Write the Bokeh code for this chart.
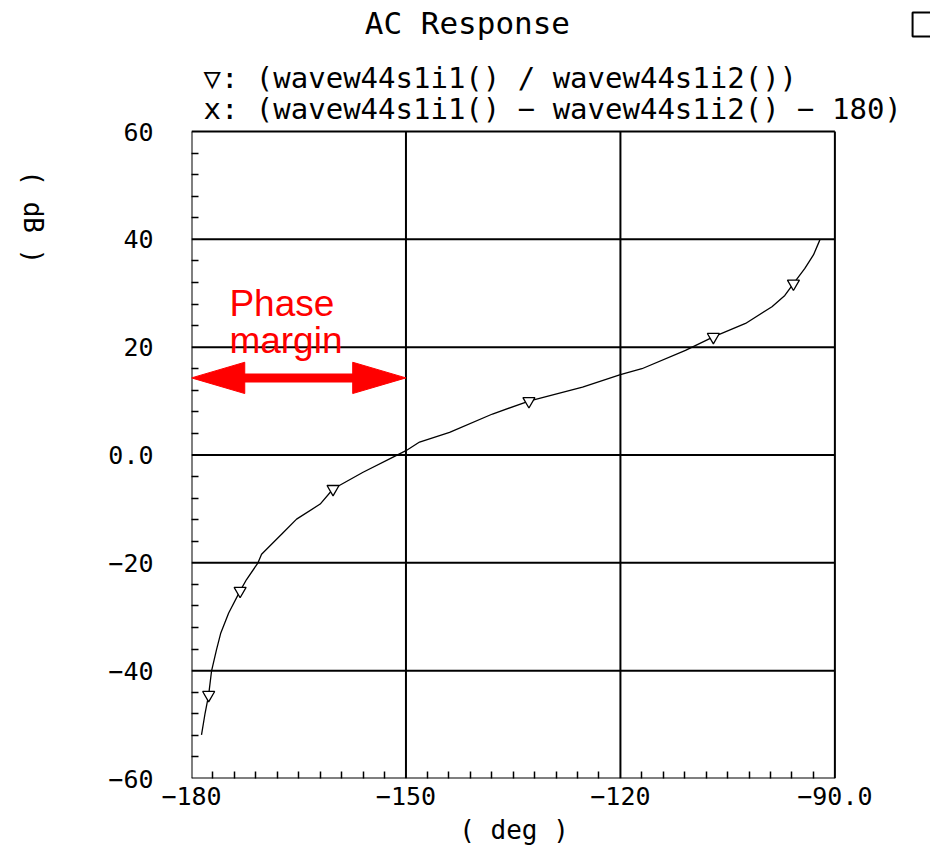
import math
import numpy as np
from bokeh.plotting import figure
from bokeh.models import Label, FixedTicker, Range1d, ColumnDataSource
from bokeh.embed import file_html
from bokeh.resources import INLINE

# ---- data ----
phase_deg = [-178.6, -178.1, -177.6, -177.2, -176.5, -175.9, -174.8, -173.2, -172.3,
             -170.7, -170.2, -167.4, -165.3, -162.0, -160.2, -156.0, -151.8, -150.0,
             -148.1, -143.9, -137.9, -132.8, -125.3, -120.0, -117.0, -110.9, -107.0,
             -102.5, -98.8, -97.0, -95.8, -94.2, -93.0, -92.1]
gain_db = [-51.9, -47.9, -44.5, -40.1, -36.1, -33.0, -29.3, -25.2, -23.1,
           -20.0, -18.4, -14.7, -11.9, -9.1, -6.3, -3.2, -0.4, 0.8,
           2.4, 4.2, 7.6, 10.0, 12.6, 14.9, 16.0, 19.4, 21.9,
           24.4, 27.5, 29.6, 31.8, 34.6, 37.1, 39.9]
marker_deg = [-177.6, -173.2, -160.2, -132.8, -107.0, -95.8]
marker_db = [-44.5, -25.2, -6.3, 10.0, 21.9, 31.8]

x_ticks = [-180, -150, -120, -90]
x_tick_labels = ["−180", "−150", "−120", "−90.0"]
y_ticks = [-60, -40, -20, 0, 20, 40, 60]
y_tick_labels = ["−60", "−40", "−20", "0.0", "20", "40", "60"]

margin_start = -180
margin_end = -150
margin_level = 14.3

title_text = "AC Response"
legend_1 = "▽: (wavew44s1i1() / wavew44s1i2())"
legend_2 = "x: (wavew44s1i1() − wavew44s1i2() − 180)"

MONO = "DejaVu Sans Mono"
NBSP = "\u00a0"

# ---- layout geometry (pixels) ----
W, H = 930, 857
AX_L, AX_R, AX_T, AX_B = 188, 834, 131, 778      # plot box in page pixels
X_LO, X_HI = x_ticks[0], x_ticks[-1]
Y_LO, Y_HI = y_ticks[0], y_ticks[-1]
kx = (AX_R - AX_L) / (X_HI - X_LO)
ky = (AX_B - AX_T) / (Y_HI - Y_LO)


def px_x(px):
    return X_LO + (px - AX_L) / kx


def px_y(py):
    return Y_LO + (AX_B - py) / ky


# frame covers the page to the right and top edges so header texts are not clipped
p = figure(width=W, height=H,
           x_range=Range1d(X_LO, px_x(W)), y_range=Range1d(Y_LO, px_y(0)),
           output_backend="svg", toolbar_location=None,
           min_border_left=AX_L, min_border_right=0, min_border_top=0, min_border_bottom=H - AX_B)
p.background_fill_color = "white"
p.border_fill_color = "white"
p.outline_line_color = None
p.grid.visible = False

minor_x = [v for v in np.arange(-180, -89, 3).tolist() if v not in x_ticks]
minor_y = [v for v in np.arange(-60, 61, 4).tolist() if v not in y_ticks]
p.xaxis.ticker = FixedTicker(ticks=x_ticks, minor_ticks=minor_x)
p.yaxis.ticker = FixedTicker(ticks=y_ticks, minor_ticks=minor_y)
p.xaxis.major_label_overrides = {t: l for t, l in zip(x_ticks, x_tick_labels)}
p.yaxis.major_label_overrides = {t: l for t, l in zip(y_ticks, y_tick_labels)}

for ax in (p.xaxis[0], p.yaxis[0]):
    ax.axis_line_color = None
    ax.major_tick_in = 0
    ax.major_tick_out = 0
    ax.minor_tick_in = 7
    ax.minor_tick_out = 0
    ax.minor_tick_line_color = "black"
    ax.minor_tick_line_width = 1.5
    ax.major_label_text_font = MONO
    ax.major_label_text_font_size = "25px"
    ax.major_label_text_color = "black"
    ax.axis_label_text_font = MONO
    ax.axis_label_text_font_size = "26px"
    ax.axis_label_text_font_style = "normal"
    ax.axis_label_text_color = "black"

# axis titles: padded with no-break spaces so they centre on the plot box, not the frame
p.xaxis.axis_label = "( deg )" + NBSP * 6
p.xaxis.major_label_standoff = 8
p.xaxis.axis_label_standoff = 7
p.yaxis.axis_label = "( dB )" + NBSP * 8
p.yaxis.major_label_standoff = 38
p.yaxis.axis_label_standoff = 72
try:
    p.yaxis.axis_label_orientation = -math.pi / 2
except Exception:
    pass

# ---- plot box and grid lines ----
gx0, gy0, gx1, gy1 = [], [], [], []
for xv in x_ticks:
    gx0.append(xv); gx1.append(xv); gy0.append(Y_LO); gy1.append(Y_HI)
for yv in y_ticks:
    gx0.append(X_LO); gx1.append(X_HI); gy0.append(yv); gy1.append(yv)
p.segment(x0=gx0, y0=gy0, x1=gx1, y1=gy1, line_color="black", line_width=2)

src = ColumnDataSource(dict(x=phase_deg, y=gain_db))
p.line("x", "y", source=src, line_color="black", line_width=1.3)
msrc = ColumnDataSource(dict(x=marker_deg, y=marker_db))
p.scatter("x", "y", source=msrc, marker="inverted_triangle", size=12,
          fill_color="white", line_color="black", line_width=1.3)

# ---- phase margin arrow ----
head_len = 7.45   # deg
head_half = 2.9   # dB
p.line([margin_start + head_len * 0.9, margin_end - head_len * 0.9], [margin_level, margin_level],
       line_color="red", line_width=9)
p.patch([margin_start, margin_start + head_len, margin_start + head_len],
        [margin_level, margin_level + head_half, margin_level - head_half],
        fill_color="red", line_color="red")
p.patch([margin_end, margin_end - head_len, margin_end - head_len],
        [margin_level, margin_level + head_half, margin_level - head_half],
        fill_color="red", line_color="red")

p.add_layout(Label(x=-174.7, y=28.1, text="Phase", text_color="red",
                   text_font="Liberation Sans", text_font_size="37px",
                   text_align="left", text_baseline="alphabetic"))
p.add_layout(Label(x=-174.7, y=21.2, text="margin", text_color="red",
                   text_font="Liberation Sans", text_font_size="37px",
                   text_align="left", text_baseline="alphabetic"))

# ---- header: title and trace legend ----
p.add_layout(Label(x=px_x(465), y=px_y(22), text=title_text, text_font=MONO,
                   text_font_size="31px", text_align="center", text_baseline="middle",
                   text_color="black"))
p.add_layout(Label(x=px_x(200), y=px_y(77), text=legend_1, text_font=MONO,
                   text_font_size="29px", text_align="left", text_baseline="middle",
                   text_color="black"))
p.add_layout(Label(x=px_x(200), y=px_y(108), text=legend_2, text_font=MONO,
                   text_font_size="29px", text_align="left", text_baseline="middle",
                   text_color="black"))
# cut-off window icon in the top-right corner
p.quad(left=[px_x(912)], right=[px_x(945)], top=[px_y(12)], bottom=[px_y(36)],
       fill_color=None, line_color="black", line_width=2)

open("out.html", "w").write(file_html(p, INLINE))
